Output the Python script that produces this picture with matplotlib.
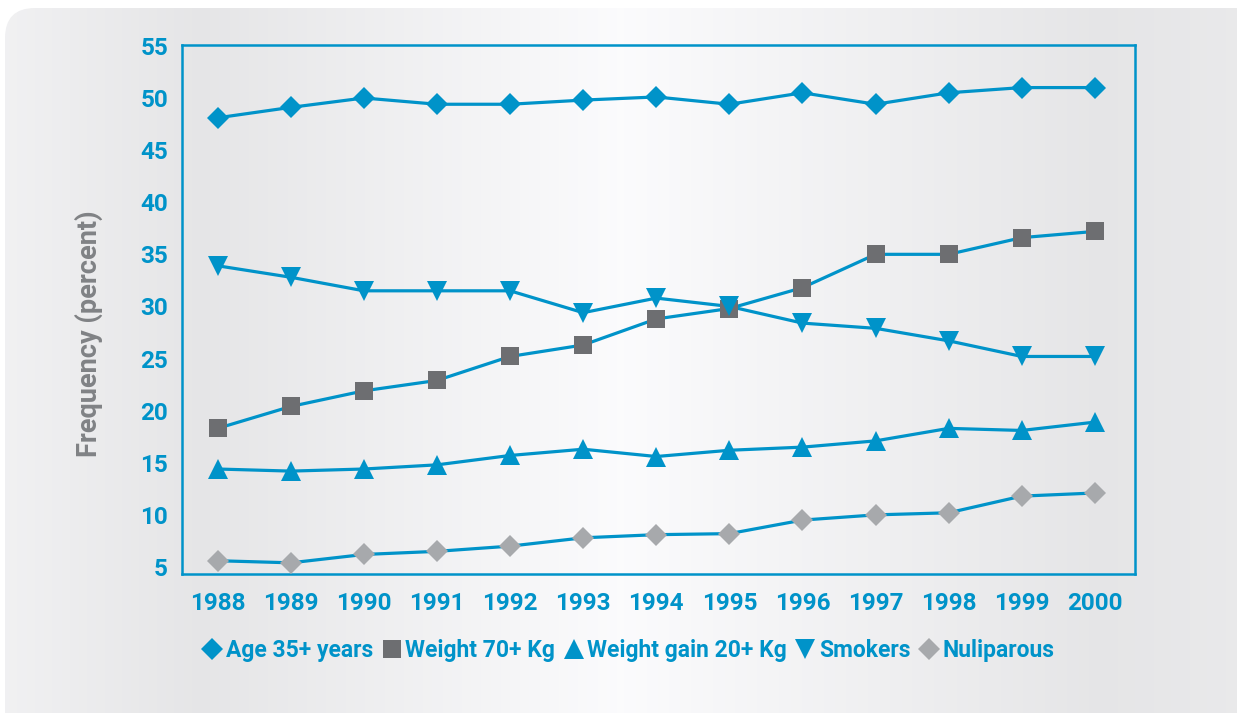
import matplotlib
matplotlib.use("Agg")
import matplotlib.pyplot as plt
import numpy as np
from matplotlib.patches import FancyBboxPatch
from matplotlib.lines import Line2D

years = [1988, 1989, 1990, 1991, 1992, 1993, 1994, 1995, 1996, 1997, 1998, 1999, 2000]
age35 = [48.1, 49.1, 50.0, 49.4, 49.4, 49.8, 50.1, 49.4, 50.5, 49.4, 50.5, 51.0, 51.0]
weight70 = [18.3, 20.4, 21.9, 22.9, 25.2, 26.3, 28.8, 29.8, 31.8, 35.0, 35.0, 36.6, 37.2]
gain20 = [14.4, 14.2, 14.4, 14.8, 15.7, 16.3, 15.6, 16.2, 16.5, 17.1, 18.3, 18.1, 18.9]
smokers = [33.9, 32.8, 31.5, 31.5, 31.5, 29.4, 30.8, 30.0, 28.4, 27.9, 26.7, 25.2, 25.2]
nuliparous = [5.6, 5.4, 6.2, 6.5, 7.0, 7.8, 8.1, 8.2, 9.5, 10.0, 10.2, 11.8, 12.1]
labels = ["Age 35+ years", "Weight 70+ Kg", "Weight gain 20+ Kg", "Smokers", "Nuliparous"]
yticks = [5, 10, 15, 20, 25, 30, 35, 40, 45, 50, 55]

blue = "#0093c9"
dark = "#6d6e71"
light = "#a7a9ac"

plt.rcParams['font.family'] = ['Roboto', 'DejaVu Sans']
plt.rcParams['font.weight'] = 'bold'

fig = plt.figure(figsize=(12.37, 7.13), dpi=100)
fig.patch.set_facecolor("white")

# gradient panel behind everything
bg = fig.add_axes([0, 0, 1, 1], zorder=-5)
bg.set_xlim(0, 1237)
bg.set_ylim(713, 0)
bg.axis("off")
xs = np.array([0, 200, 620, 1100, 1237])
vals = np.array([0.945, 0.9, 0.985, 0.9, 0.915])
row = np.interp(np.arange(1237), xs, vals)
img = np.dstack([row, row, row + 0.006]).clip(0, 1)
img = np.repeat(img, 2, axis=0)
box = FancyBboxPatch((5, 8), 1260, 740, boxstyle="round,pad=0,rounding_size=30",
                     transform=bg.transData, facecolor="none", edgecolor="none")
bg.add_patch(box)
im = bg.imshow(img, extent=[0, 1237, 713, 0], aspect="auto")
im.set_clip_path(box)

ax = fig.add_axes([0.147, 0.195, 0.7706, 0.7421])
ax.patch.set_alpha(0)

series = [(age35, "D", blue, 11.5), (weight70, "s", dark, 13.5), (gain20, "^", blue, 15),
          (smokers, "v", blue, 15), (nuliparous, "D", light, 11.5)]
handles = []
for (vals_, mk, mc, ms), lab in zip(series, labels):
    ax.plot(years, vals_, color=blue, lw=2.3, zorder=2)
    ax.plot(years, vals_, linestyle="none", marker=mk, color=mc, markersize=ms,
            markeredgewidth=0, zorder=3)
    handles.append(Line2D([], [], linestyle="none", marker=mk, color=mc,
                          markersize=ms, markeredgewidth=0, label=lab))

ax.set_xlim(1987.51, 2000.55)
ax.set_ylim(4.33, 55.1)
ax.set_xticks(years)
ax.set_yticks(yticks)
ax.tick_params(length=0, labelsize=17.5, labelcolor=blue)
ax.tick_params(axis="x", pad=13)
ax.tick_params(axis="y", pad=10)
for lab in ax.get_xticklabels() + ax.get_yticklabels():
    lab.set_fontweight("bold")
for s in ax.spines.values():
    s.set_color(blue)
    s.set_linewidth(1.8)
ax.set_ylabel("Frequency (percent)", color="#808285", fontsize=19.5, fontweight="bold")
ax.yaxis.set_label_coords(-0.083, 0.455)

leg = fig.legend(handles=handles, loc="center", bbox_to_anchor=(0.508, 0.087), ncol=5, frameon=False,
                 handlelength=0.9, handletextpad=0.15, columnspacing=0.35,
                 prop={"weight": "bold", "size": 16.5})
for t in leg.get_texts():
    t.set_color(blue)

fig.savefig("out.png", dpi=100)
